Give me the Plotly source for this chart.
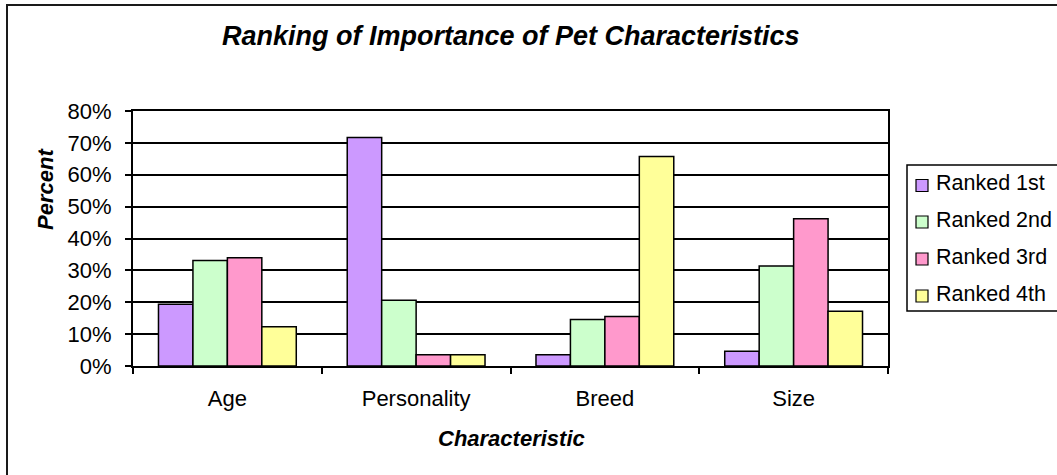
import plotly.graph_objects as go

# Survey results: share of respondents giving each rank to each characteristic
categories = ["Age", "Personality", "Breed", "Size"]
series_names = ["Ranked 1st", "Ranked 2nd", "Ranked 3rd", "Ranked 4th"]
ranked_1st = [0.194, 0.717, 0.035, 0.046]
ranked_2nd = [0.331, 0.206, 0.146, 0.314]
ranked_3rd = [0.340, 0.035, 0.155, 0.462]
ranked_4th = [0.123, 0.035, 0.657, 0.172]
y_ticks = [0, 0.1, 0.2, 0.3, 0.4, 0.5, 0.6, 0.7, 0.8]

series_values = [ranked_1st, ranked_2nd, ranked_3rd, ranked_4th]
colors = ["#CC99FF", "#CCFFCC", "#FF99CC", "#FFFF99"]

FONT = "Liberation Sans, Arial, sans-serif"
W, H = 1057, 475
# plot area in pixels
PL, PR, PT, PB = 133, 888, 111, 366


def xp(px):
    return (px - PL) / (PR - PL)


def yp(py):
    return (PB - py) / (PB - PT)


fig = go.Figure()
for name, vals, col in zip(series_names, series_values, colors):
    fig.add_trace(go.Bar(
        x=categories, y=vals, name=name,
        marker=dict(color=col, line=dict(color="#000000", width=1.5)),
        showlegend=False, hoverinfo="skip",
    ))

shapes = []
annotations = []

# outer chart frame (left and top edges visible)
shapes.append(dict(
    type="path", xref="paper", yref="paper",
    path=f"M {xp(7)},{yp(490)} L {xp(7)},{yp(5)} L {xp(1080)},{yp(5)}",
    line=dict(color="#1a1a1a", width=2),
))

# legend box
shapes.append(dict(
    type="rect", xref="paper", yref="paper",
    x0=xp(907), x1=xp(1080), y0=yp(311), y1=yp(165),
    line=dict(color="#000000", width=1.5), fillcolor="white",
))
leg_y = [185.5, 222, 259, 296]
for name, col, cy in zip(series_names, colors, leg_y):
    shapes.append(dict(
        type="rect", xref="paper", yref="paper",
        x0=xp(916), x1=xp(928), y0=yp(cy + 6), y1=yp(cy - 6),
        line=dict(color="#000000", width=1.2), fillcolor=col,
    ))
    annotations.append(dict(
        text=name, xref="paper", yref="paper",
        x=xp(934), y=yp(cy - 2.5), xanchor="left", yanchor="middle",
        showarrow=False, font=dict(family=FONT, size=21.5, color="black"),
    ))

# chart title
annotations.append(dict(
    text="Ranking of Importance of Pet Characteristics",
    xref="paper", yref="paper", x=xp(511), y=yp(36),
    xanchor="center", yanchor="middle", showarrow=False,
    font=dict(family=FONT, size=27, color="black", weight="bold", style="italic"),
))
# axis titles
annotations.append(dict(
    text="Percent", xref="paper", yref="paper", x=xp(45), y=yp(189),
    xanchor="center", yanchor="middle", showarrow=False, textangle=-90,
    font=dict(family=FONT, size=22, color="black", weight="bold", style="italic"),
))
annotations.append(dict(
    text="Characteristic", xref="paper", yref="paper", x=xp(511), y=yp(439),
    xanchor="center", yanchor="middle", showarrow=False,
    font=dict(family=FONT, size=22, color="black", weight="bold", style="italic"),
))

fig.update_layout(
    width=W, height=H,
    margin=dict(l=PL, r=W - PR, t=PT, b=H - PB, pad=0),
    paper_bgcolor="white", plot_bgcolor="white",
    barmode="group", bargap=0.27, bargroupgap=0,
    showlegend=False,
    shapes=shapes, annotations=annotations,
    hovermode=False,
)
fig.update_xaxes(
    showline=True, linecolor="black", linewidth=2, mirror=True,
    ticks="outside", tickson="boundaries", ticklen=6, tickwidth=1.5, tickcolor="black",
    showgrid=False, ticklabelstandoff=12,
    tickfont=dict(family=FONT, size=22, color="black"),
)
fig.update_yaxes(
    range=[0, 0.8], tickvals=y_ticks, tickformat=".0%",
    showgrid=True, gridcolor="black", gridwidth=1.6, zeroline=False,
    showline=True, linecolor="black", linewidth=2, mirror=True,
    ticks="outside", ticklen=6, tickwidth=1.5, tickcolor="black",
    ticklabelstandoff=9,
    tickfont=dict(family=FONT, size=22, color="black"),
)

fig.write_html("out.html")
